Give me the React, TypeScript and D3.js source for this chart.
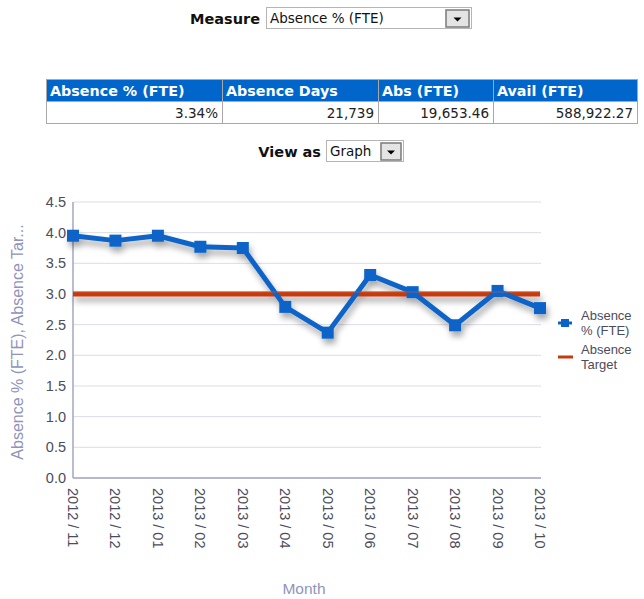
import React from "react";
import * as d3 from "d3";

const months = ["2012 / 11","2012 / 12","2013 / 01","2013 / 02","2013 / 03","2013 / 04","2013 / 05","2013 / 06","2013 / 07","2013 / 08","2013 / 09","2013 / 10"];
const absencePct = [3.95, 3.87, 3.95, 3.77, 3.75, 2.79, 2.37, 3.31, 3.03, 2.49, 3.05, 2.77];
const absenceTarget = [3.0, 3.0, 3.0, 3.0, 3.0, 3.0, 3.0, 3.0, 3.0, 3.0, 3.0, 3.0];
const yTicks = [0, 0.5, 1.0, 1.5, 2.0, 2.5, 3.0, 3.5, 4.0, 4.5];
const tableHeaders = ["Absence % (FTE)", "Absence Days", "Abs (FTE)", "Avail (FTE)"];
const tableValues = ["3.34%", "21,739", "19,653.46", "588,922.27"];
const tableColEdges = [46, 222, 378, 493, 637];

const W = 644, H = 599;
const plot = { left: 73, right: 540, top: 202, bottom: 478 };
const uiFont = "'DejaVu Sans', Tahoma, sans-serif";
const chartFont = "'Liberation Sans', Arial, sans-serif";
const blue = "#0a64c8";
const red = "#c63a0e";
const axisColor = "#a3a6c2";
const labelColor = "#4c4c5c";
const titleColor = "#9094bb";

function DropButton({ x, y, w, h }: { x: number; y: number; w: number; h: number }) {
  const cx = x + w / 2, cy = y + h / 2 + 1;
  return (
    <g>
      <rect x={x} y={y} width={w} height={h} fill="#e4e4e4" stroke="#7a7a7a" strokeWidth={1.5} />
      <path d={`M${cx - 4},${cy - 2} L${cx + 4},${cy - 2} L${cx},${cy + 2} Z`} fill="#000" />
    </g>
  );
}

export default function App() {
  const x = d3.scalePoint<string>().domain(months).range([plot.left, plot.right]);
  const y = d3.scaleLinear().domain([0, 4.5]).range([plot.bottom, plot.top]);
  const line = d3.line<number>().x((_, i) => x(months[i])!).y((d) => y(d));

  return (
    <svg width={W} height={H} style={{ position: "absolute", left: 0, top: 0, background: "#fff" }}>
      <defs>
        <filter id="shadow" x="-10%" y="-20%" width="120%" height="160%">
          <feGaussianBlur in="SourceAlpha" stdDeviation="3" />
          <feOffset dx="2" dy="5" result="b" />
          <feComponentTransfer><feFuncA type="linear" slope="0.35" /></feComponentTransfer>
          <feMerge><feMergeNode /><feMergeNode in="SourceGraphic" /></feMerge>
        </filter>
      </defs>

      {/* Measure selector */}
      <text x={260} y={24} textAnchor="end" fontFamily={uiFont} fontWeight="bold" fontSize={14.5} fill="#111">Measure</text>
      <rect x={266.5} y={7.5} width={205} height={21} fill="#fff" stroke="#b5b5b5" />
      <text x={270} y={23} fontFamily={uiFont} fontSize={13.5} fill="#111">Absence % (FTE)</text>
      <DropButton x={446} y={10} w={23} h={17} />

      {/* Table */}
      <rect x={tableColEdges[0]} y={80} width={tableColEdges[4] - tableColEdges[0]} height={21} fill="#0066cc" />
      <rect x={tableColEdges[0] + 0.5} y={79.5} width={tableColEdges[4] - tableColEdges[0]} height={44} fill="none" stroke="#a8a8a8" />
      <line x1={tableColEdges[0]} x2={tableColEdges[4]} y1={101.5} y2={101.5} stroke="#a8a8a8" />
      {tableColEdges.slice(1, 4).map((e) => (
        <line key={e} x1={e + 0.5} x2={e + 0.5} y1={80} y2={124} stroke="#a8a8a8" />
      ))}
      {tableHeaders.map((h, i) => (
        <text key={h} x={tableColEdges[i] + 4} y={96} fontFamily={uiFont} fontWeight="bold" fontSize={14.3} fill="#fff">{h}</text>
      ))}
      {tableValues.map((v, i) => (
        <text key={v} x={tableColEdges[i + 1] - 4} y={118} textAnchor="end" fontFamily={uiFont} fontSize={13.5} fill="#222">{v}</text>
      ))}

      {/* View as */}
      <text x={321} y={157} textAnchor="end" fontFamily={uiFont} fontWeight="bold" fontSize={14.5} fill="#111">View as</text>
      <rect x={326.5} y={140.5} width={77} height={21} fill="#fff" stroke="#b5b5b5" />
      <text x={330} y={156} fontFamily={uiFont} fontSize={13.5} fill="#111">Graph</text>
      <DropButton x={381} y={143} w={20} h={17} />

      {/* Grid */}
      {yTicks.map((t) => (
        <line key={t} x1={plot.left} x2={plot.right + 1} y1={y(t)} y2={y(t)} stroke="#dcdce6" strokeWidth={1} />
      ))}
      {/* Axes */}
      <line x1={plot.left} x2={plot.left} y1={plot.top} y2={plot.bottom} stroke={axisColor} strokeWidth={1.5} />
      <line x1={plot.left} x2={plot.right + 1} y1={plot.bottom} y2={plot.bottom} stroke={axisColor} strokeWidth={1.5} />
      {yTicks.map((t) => (
        <text key={t} x={66} y={y(t) + 5} textAnchor="end" fontFamily={chartFont} fontSize={14.5} fill={labelColor}>{t.toFixed(1)}</text>
      ))}
      {months.map((m) => (
        <text key={m} transform={`translate(${x(m)! - 5},488) rotate(90)`} fontFamily={chartFont} fontSize={14.5} fill={labelColor}>{m}</text>
      ))}

      {/* Series */}
      <g filter="url(#shadow)">
        <path d={line(absenceTarget)!} fill="none" stroke={red} strokeWidth={5} />
        <path d={line(absencePct)!} fill="none" stroke={blue} strokeWidth={5} strokeLinejoin="round" />
        {absencePct.map((v, i) => (
          <rect key={i} x={x(months[i])! - 6} y={y(v) - 6} width={12} height={12} fill={blue} />
        ))}
      </g>
      <path d={line(absenceTarget)!} fill="none" stroke="#e0633a" strokeWidth={1} opacity={0.5} transform="translate(0,-2)" />

      {/* Axis titles */}
      <text transform={`translate(23,342) rotate(-90)`} textAnchor="middle" fontFamily={chartFont} fontSize={16} fill={titleColor}>Absence % (FTE), Absence Tar...</text>
      <text x={304} y={594} textAnchor="middle" fontFamily={chartFont} fontSize={15.5} fill={titleColor}>Month</text>

      {/* Legend */}
      <line x1={558} x2={572} y1={323} y2={323} stroke={blue} strokeWidth={3} />
      <rect x={561} y={319} width={8} height={8} fill={blue} />
      <text fontFamily={chartFont} fontSize={13} fill={labelColor}>
        <tspan x={581} y={320}>Absence</tspan>
        <tspan x={581} y={335}>% (FTE)</tspan>
      </text>
      <line x1={558} x2={573} y1={357} y2={357} stroke={red} strokeWidth={3} />
      <text fontFamily={chartFont} fontSize={13} fill={labelColor}>
        <tspan x={581} y={354}>Absence</tspan>
        <tspan x={581} y={369}>Target</tspan>
      </text>
    </svg>
  );
}
